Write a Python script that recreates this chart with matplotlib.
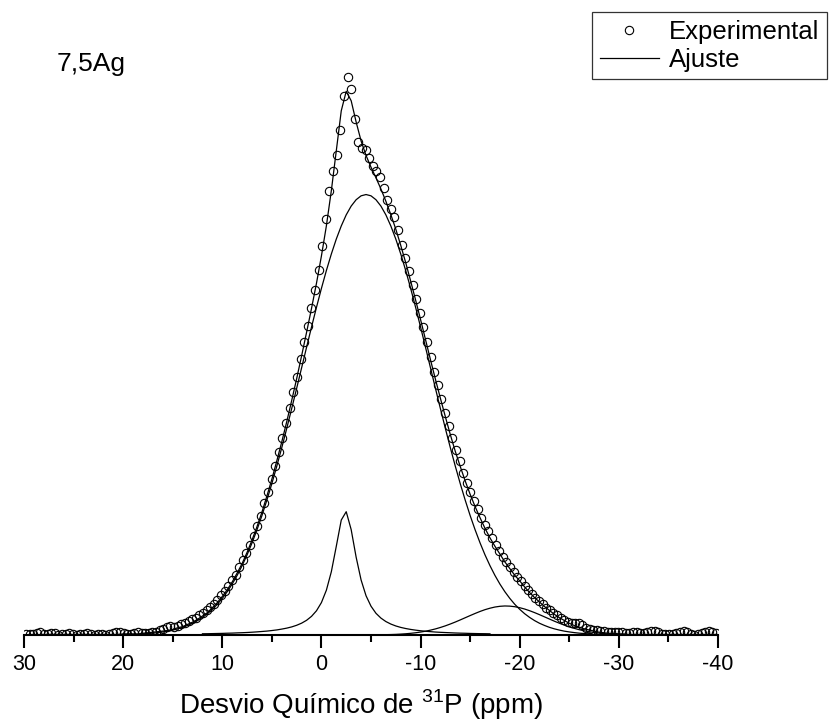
import numpy as np
import matplotlib
matplotlib.use("Agg")
import matplotlib.pyplot as plt
from matplotlib.ticker import MultipleLocator

plt.rcParams['font.family'] = ['Liberation Sans', 'DejaVu Sans']
plt.rcParams['mathtext.fontset'] = 'custom'
plt.rcParams['mathtext.rm'] = 'Liberation Sans'

# experimental spectrum (normalised intensity), uniform ppm grid
exp_start, exp_stop, exp_n = 29.8, -39.8, 192
exp_y = [
    0.002, 0.001, 0.002, 0.003, 0.005, 0.002, 0.001, 0.004, 0.003, 0.000,
    0.001, 0.002, 0.004, 0.001, 0.000, 0.001, 0.002, 0.004, 0.002, 0.000,
    0.001, 0.001, 0.000, 0.002, 0.003, 0.005, 0.006, 0.003, 0.001, 0.002,
    0.004, 0.006, 0.004, 0.003, 0.004, 0.005, 0.006, 0.009, 0.011, 0.014,
    0.016, 0.015, 0.016, 0.019, 0.022, 0.025, 0.028, 0.031, 0.035, 0.040,
    0.045, 0.050, 0.056, 0.063, 0.071, 0.079, 0.088, 0.098, 0.108, 0.121,
    0.134, 0.147, 0.161, 0.177, 0.195, 0.214, 0.236, 0.257, 0.279, 0.303,
    0.328, 0.352, 0.379, 0.406, 0.436, 0.463, 0.494, 0.524, 0.554, 0.586,
    0.618, 0.654, 0.697, 0.745, 0.795, 0.832, 0.860, 0.905, 0.965, 1.000,
    0.978, 0.924, 0.884, 0.873, 0.869, 0.855, 0.841, 0.832, 0.821, 0.801,
    0.780, 0.763, 0.749, 0.726, 0.699, 0.676, 0.652, 0.627, 0.602, 0.577,
    0.551, 0.524, 0.498, 0.472, 0.447, 0.423, 0.397, 0.375, 0.353, 0.331,
    0.311, 0.291, 0.273, 0.256, 0.240, 0.225, 0.210, 0.197, 0.186, 0.173,
    0.161, 0.151, 0.140, 0.130, 0.121, 0.112, 0.104, 0.096, 0.088, 0.081,
    0.073, 0.067, 0.061, 0.055, 0.049, 0.044, 0.040, 0.035, 0.031, 0.027,
    0.024, 0.022, 0.021, 0.022, 0.018, 0.013, 0.011, 0.009, 0.009, 0.008,
    0.007, 0.006, 0.005, 0.005, 0.006, 0.005, 0.003, 0.004, 0.006, 0.005,
    0.003, 0.004, 0.006, 0.007, 0.007, 0.005, 0.002, 0.001, 0.002, 0.001,
    0.003, 0.006, 0.008, 0.005, 0.001, 0.000, 0.002, 0.004, 0.006, 0.007,
    0.005, 0.003,
]

# total fit, 0.5 ppm steps from 30 to -40
fit_start, fit_stop = 30.0, -40.0
fit_y = [
    0.000, 0.000, 0.000, 0.000, 0.001, 0.001, 0.001, 0.001, 0.001, 0.001,
    0.001, 0.001, 0.001, 0.001, 0.001, 0.001, 0.001, 0.001, 0.001, 0.001,
    0.002, 0.002, 0.002, 0.002, 0.003, 0.004, 0.005, 0.006, 0.007, 0.008,
    0.010, 0.013, 0.015, 0.019, 0.023, 0.028, 0.034, 0.040, 0.049, 0.058,
    0.069, 0.081, 0.095, 0.111, 0.128, 0.148, 0.170, 0.194, 0.220, 0.249,
    0.279, 0.312, 0.346, 0.382, 0.420, 0.459, 0.500, 0.542, 0.585, 0.630,
    0.679, 0.733, 0.796, 0.868, 0.939, 0.974, 0.957, 0.919, 0.885, 0.859,
    0.838, 0.819, 0.799, 0.777, 0.753, 0.727, 0.698, 0.667, 0.634, 0.600,
    0.565, 0.529, 0.493, 0.458, 0.424, 0.391, 0.359, 0.329, 0.302, 0.276,
    0.252, 0.230, 0.210, 0.191, 0.174, 0.159, 0.145, 0.131, 0.119, 0.107,
    0.097, 0.086, 0.076, 0.067, 0.059, 0.051, 0.044, 0.037, 0.031, 0.026,
    0.021, 0.017, 0.014, 0.011, 0.009, 0.007, 0.005, 0.004, 0.003, 0.003,
    0.002, 0.002, 0.001, 0.001, 0.001, 0.001, 0.001, 0.001, 0.001, 0.001,
    0.001, 0.001, 0.001, 0.001, 0.001, 0.001, 0.001, 0.001, 0.001, 0.001,
    0.001,
]

# broad component, 0.5 ppm steps from 18 to -27
broad_start, broad_stop = 18.0, -27.0
broad_y = [
    0.0020, 0.0026, 0.0033, 0.0043, 0.0055, 0.0069, 0.0088, 0.0110, 0.0137, 0.0171,
    0.0210, 0.0258, 0.0315, 0.0381, 0.0460, 0.0550, 0.0656, 0.0776, 0.0913, 0.1068,
    0.1242, 0.1435, 0.1650, 0.1885, 0.2140, 0.2417, 0.2712, 0.3026, 0.3356, 0.3700,
    0.4055, 0.4418, 0.4785, 0.5153, 0.5516, 0.5869, 0.6209, 0.6529, 0.6825, 0.7093,
    0.7327, 0.7526, 0.7683, 0.7797, 0.7867, 0.7890, 0.7867, 0.7797, 0.7683, 0.7526,
    0.7327, 0.7093, 0.6825, 0.6529, 0.6209, 0.5869, 0.5516, 0.5153, 0.4785, 0.4418,
    0.4055, 0.3700, 0.3356, 0.3026, 0.2712, 0.2417, 0.2140, 0.1885, 0.1650, 0.1435,
    0.1242, 0.1068, 0.0913, 0.0776, 0.0656, 0.0550, 0.0460, 0.0381, 0.0315, 0.0258,
    0.0210, 0.0171, 0.0137, 0.0110, 0.0088, 0.0069, 0.0055, 0.0043, 0.0033, 0.0026,
    0.0020,
]

# narrow component, 0.5 ppm steps from 12 to -17
narrow_start, narrow_stop = 12.0, -17.0
narrow_y = [
    0.0022, 0.0023, 0.0025, 0.0027, 0.0029, 0.0032, 0.0034, 0.0038, 0.0041, 0.0045,
    0.0050, 0.0056, 0.0063, 0.0070, 0.0080, 0.0091, 0.0106, 0.0123, 0.0145, 0.0174,
    0.0212, 0.0263, 0.0334, 0.0434, 0.0581, 0.0803, 0.1134, 0.1590, 0.2059, 0.2209,
    0.1888, 0.1395, 0.0986, 0.0703, 0.0516, 0.0389, 0.0303, 0.0241, 0.0196, 0.0162,
    0.0136, 0.0116, 0.0100, 0.0087, 0.0076, 0.0067, 0.0060, 0.0053, 0.0048, 0.0044,
    0.0040, 0.0036, 0.0033, 0.0031, 0.0028, 0.0026, 0.0024, 0.0023, 0.0021,
]

# small high-field component, 0.5 ppm steps from -6 to -31
small_start, small_stop = -6.0, -31.0
small_y = [
    0.0004, 0.0006, 0.0008, 0.0011, 0.0016, 0.0022, 0.0030, 0.0040, 0.0053, 0.0068,
    0.0087, 0.0109, 0.0135, 0.0164, 0.0197, 0.0232, 0.0270, 0.0309, 0.0348, 0.0386,
    0.0422, 0.0454, 0.0480, 0.0501, 0.0514, 0.0520, 0.0517, 0.0507, 0.0489, 0.0465,
    0.0435, 0.0401, 0.0364, 0.0325, 0.0286, 0.0247, 0.0211, 0.0177, 0.0146, 0.0119,
    0.0095, 0.0075, 0.0059, 0.0045, 0.0034, 0.0025, 0.0018, 0.0013, 0.0009, 0.0006,
    0.0004,
]

exp_x = np.linspace(exp_start, exp_stop, exp_n)
fit_x = np.linspace(fit_start, fit_stop, len(fit_y))
broad_x = np.linspace(broad_start, broad_stop, len(broad_y))
narrow_x = np.linspace(narrow_start, narrow_stop, len(narrow_y))
small_x = np.linspace(small_start, small_stop, len(small_y))

W, H = 830, 724
fig = plt.figure(figsize=(W / 100, H / 100), dpi=100)
ax = fig.add_axes([24 / W, 1 - 635 / H, (718 - 24) / W, (635 - 60) / H])

ax.plot(exp_x, exp_y, 'o', ms=6, mfc='none', mec='black', mew=0.8,
        label='Experimental', zorder=3)
ax.plot(fit_x, fit_y, '-', color='black', lw=0.9, label='Ajuste')
ax.plot(broad_x, broad_y, '-', color='black', lw=0.9)
ax.plot(narrow_x, narrow_y, '-', color='black', lw=0.9)
ax.plot(small_x, small_y, '-', color='black', lw=0.9)

ax.set_xlim(30, -40)
ax.set_ylim(0, 1.03)

for side in ('top', 'right', 'left'):
    ax.spines[side].set_visible(False)
ax.spines['bottom'].set_linewidth(1.5)
ax.set_yticks([])
ax.xaxis.set_minor_locator(MultipleLocator(5))
ax.set_xticks([30, 20, 10, 0, -10, -20, -30, -40])
ax.set_xticklabels(['30', '20', '10', '0', '-10', '-20', '-30', '-40'])
ax.tick_params(axis='x', which='major', direction='out', length=9, width=1.5,
               labelsize=15.5, pad=5)
ax.tick_params(axis='x', which='minor', direction='out', length=5, width=1.5)

ax.set_xlabel(r'Desvio Químico de $^{\mathrm{31}}$P (ppm)', fontsize=20, labelpad=9)
ax.xaxis.label.set_x(0.485)

fig.text(57 / W, 1 - 71 / H, '7,5Ag', fontsize=19, va='baseline', ha='left')

leg = fig.legend(loc='upper right', bbox_to_anchor=(827 / W, 1 - 12 / H),
                 fontsize=18.5, frameon=True, fancybox=False, borderaxespad=0,
                 borderpad=0.3, labelspacing=0.15, handlelength=2.3,
                 handletextpad=0.4)
leg.get_frame().set_edgecolor('black')
leg.get_frame().set_linewidth(0.9)

fig.savefig('out.png', dpi=100)
